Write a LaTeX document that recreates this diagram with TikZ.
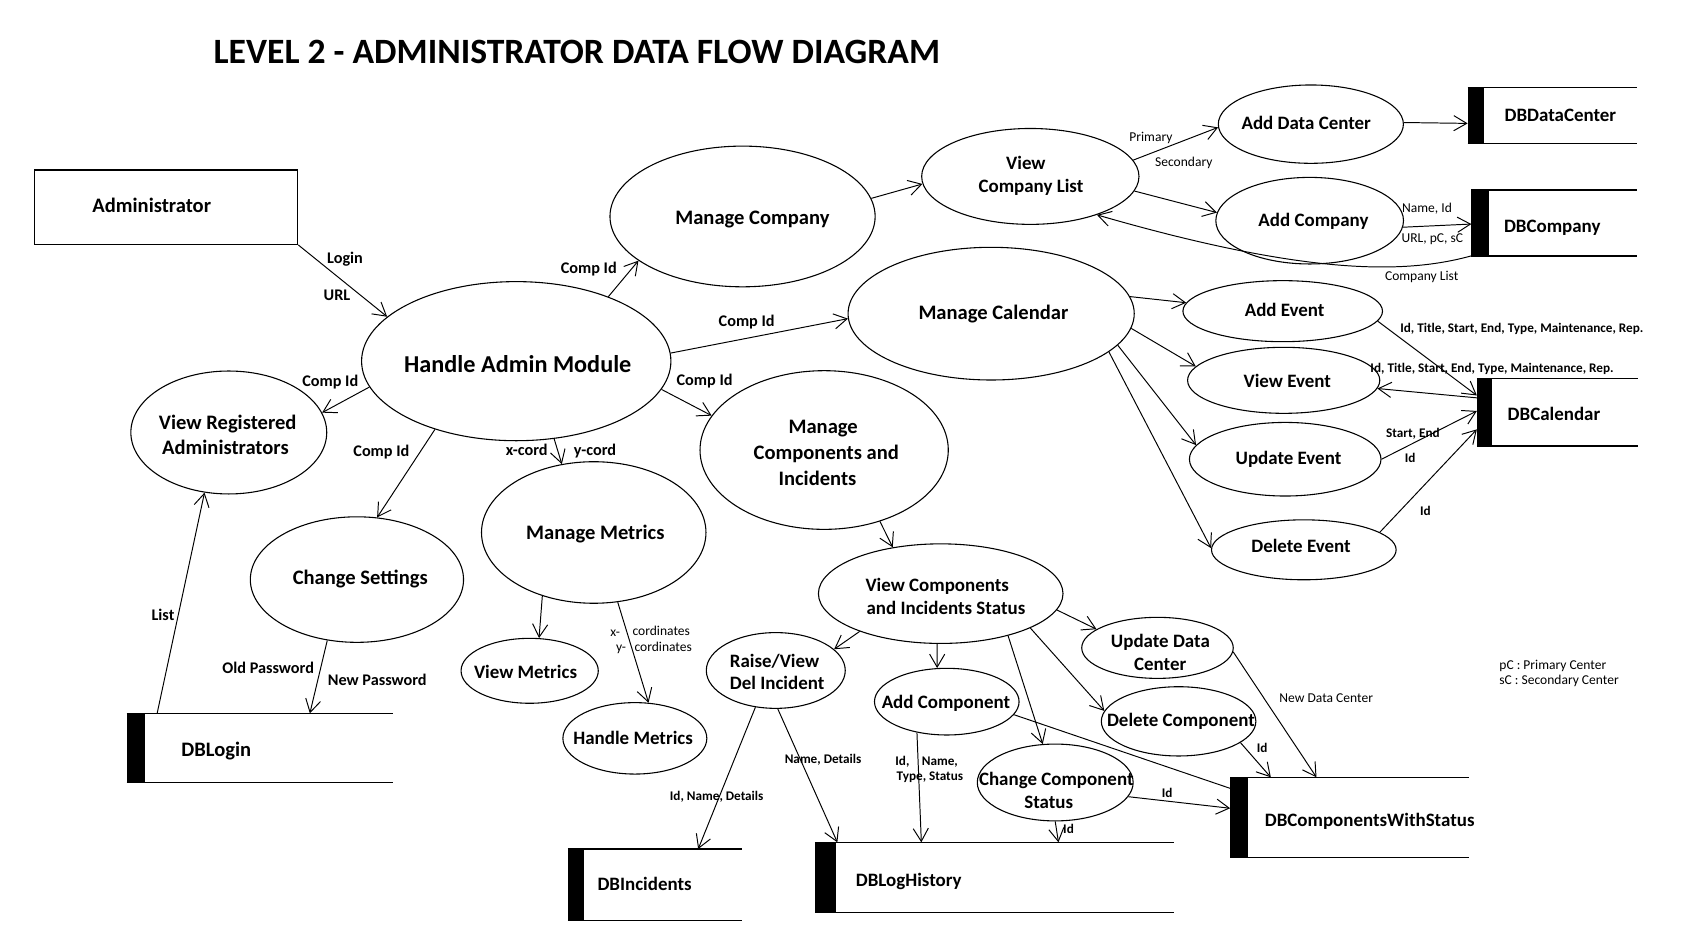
\documentclass[tikz,border=0pt]{standalone}
\usepackage{fontspec}
\setmainfont{Carlito}
\usetikzlibrary{arrows.meta,shapes.geometric,calc}
\tikzset{
  pe/.style={ellipse,draw,line width=0.5pt,inner sep=0pt},
  st/.style={rectangle,inner sep=0pt,anchor=north west},
  sline/.style={line width=0.6pt},
  flow/.style={line width=0.45pt,-{Straight Barb[length=6pt,width=7pt,line width=0.45pt]}},
  plain/.style={line width=0.45pt},
  tTitle/.style={font=\bfseries\fontsize{16.45}{18}\selectfont,inner sep=0pt,anchor=base west},
  tBig/.style={font=\bfseries\fontsize{11.2}{13}\selectfont,inner sep=0pt,anchor=base,yshift=-3.6pt},
  tA/.style={font=\bfseries\fontsize{9.5}{11}\selectfont,inner sep=0pt,anchor=base,yshift=-3.06pt},
  tB/.style={font=\bfseries\fontsize{8.75}{10}\selectfont,inner sep=0pt,anchor=base,yshift=-2.82pt},
  tS/.style={font=\bfseries\fontsize{7.5}{9}\selectfont,inner sep=0pt,anchor=base,yshift=-2.4pt},
  tT/.style={font=\fontsize{6.25}{7.5}\selectfont,inner sep=0pt,anchor=base,yshift=-2pt},
  tTb/.style={font=\bfseries\fontsize{6.1}{7.5}\selectfont,inner sep=0pt,anchor=base,yshift=-2pt}
}
\begin{document}
\begin{tikzpicture}[x=0.5pt,y=-0.5pt]
\fill[white] (0,0) rectangle (1568,864);
\useasboundingbox (0,0) rectangle (1568,864);

% title
\node[tTitle] (title) at (197,58.5) {LEVEL 2 - ADMINISTRATOR DATA FLOW DIAGRAM};

% external entity
\node[rectangle,draw,line width=0.5pt,inner sep=0pt,minimum width=121.65pt,minimum height=34.35pt] (admin) at (153.45,191.45) {};

% processes
\node[pe,minimum width=142.9pt,minimum height=73.5pt] (hm) at (477,333.7) {};
\node[pe,minimum width=122.5pt,minimum height=65pt] (mc) at (686.1,200) {};
\node[pe,minimum width=100.4pt,minimum height=44.3pt] (vcl) at (952,163) {};
\node[pe,minimum width=85.5pt,minimum height=36.2pt] (adc) at (1211.2,114.7) {};
\node[pe,minimum width=86.7pt,minimum height=40pt] (ac) at (1210.1,203.9) {};
\node[pe,minimum width=132.2pt,minimum height=61.3pt] (mcal) at (915.8,289.8) {};
\node[pe,minimum width=92.2pt,minimum height=28.2pt] (ae) at (1185.2,287.5) {};
\node[pe,minimum width=88.8pt,minimum height=30.5pt] (ve) at (1186.1,351.4) {};
\node[pe,minimum width=88.5pt,minimum height=34pt] (ue) at (1187.5,424.3) {};
\node[pe,minimum width=85.3pt,minimum height=27.7pt] (de) at (1204.7,508) {};
\node[pe,minimum width=90.5pt,minimum height=56.8pt] (vra) at (211.4,399.6) {};
\node[pe,minimum width=98.5pt,minimum height=58pt] (cs) at (329.8,535.5) {};
\node[pe,minimum width=103.7pt,minimum height=65.4pt] (mm) at (548.6,492) {};
\node[pe,minimum width=114.7pt,minimum height=73.3pt] (mci) at (761.5,415.8) {};
\node[pe,minimum width=113pt,minimum height=46pt] (vcs) at (869.2,548.5) {};
\node[pe,minimum width=63.4pt,minimum height=30pt] (vm) at (489.4,619.8) {};
\node[pe,minimum width=66.5pt,minimum height=33pt] (hme) at (586.6,682.2) {};
\node[pe,minimum width=64.2pt,minimum height=35pt] (rvd) at (716.8,619.5) {};
\node[pe,minimum width=66.8pt,minimum height=30.8pt] (acp) at (874.8,648.3) {};
\node[pe,minimum width=70pt,minimum height=28.2pt] (udc) at (1069.5,598.6) {};
\node[pe,minimum width=71.4pt,minimum height=32pt] (dc) at (1089,666.5) {};
\node[pe,minimum width=72pt,minimum height=35.5pt] (ccs) at (975,723) {};

% data stores
\node[st,minimum width=77.95pt,minimum height=25.55pt] (dbdc) at (1356.1,80.7) {};
\node[st,minimum width=76.25pt,minimum height=30pt] (dbco) at (1359.5,175.6) {};
\node[st,minimum width=73.85pt,minimum height=30.8pt] (dbcal) at (1364.6,349.6) {};
\node[st,minimum width=122.45pt,minimum height=31.55pt] (dblog) at (117.1,659.1) {};
\node[st,minimum width=80.05pt,minimum height=32.45pt] (dbinc) at (524.6,784.5) {};
\node[st,minimum width=165.35pt,minimum height=32.05pt] (dblh) at (753,778.3) {};
\node[st,minimum width=109.9pt,minimum height=36.65pt] (dbcws) at (1136.6,718.2) {};

\fill (dbdc.north west) rectangle ($(dbdc.south west)+(15.4,0)$);
\draw[sline] (dbdc.north west) -- (dbdc.north east) (dbdc.south west) -- (dbdc.south east);
\fill (dbco.north west) rectangle ($(dbco.south west)+(15.9,0)$);
\draw[sline] (dbco.north west) -- (dbco.north east) (dbco.south west) -- (dbco.south east);
\fill (dbcal.north west) rectangle ($(dbcal.south west)+(14,0)$);
\draw[sline] (dbcal.north west) -- (dbcal.north east) (dbcal.south west) -- (dbcal.south east);
\fill (dblog.north west) rectangle ($(dblog.south west)+(17,0)$);
\draw[sline] (dblog.north west) -- (dblog.north east) (dblog.south west) -- (dblog.south east);
\fill (dbinc.north west) rectangle ($(dbinc.south west)+(14.9,0)$);
\draw[sline] (dbinc.north west) -- (dbinc.north east) (dbinc.south west) -- (dbinc.south east);
\fill (dblh.north west) rectangle ($(dblh.south west)+(19.8,0)$);
\draw[sline] (dblh.north west) -- (dblh.north east) (dblh.south west) -- (dblh.south east);
\fill (dbcws.north west) rectangle ($(dbcws.south west)+(16.4,0)$);
\draw[sline] (dbcws.north west) -- (dbcws.north east) (dbcws.south west) -- (dbcws.south east);

% main texts
\node[tA] (t1) at (140.2,190.3) {Administrator};
\node[tBig] (t2) at (478.4,337.3) {Handle Admin Module};
\node[tA] (t3) at (210.4,390.5) {View Registered};
\node[tA] (t4) at (208.3,414.2) {Administrators};
\node[tA] (t5) at (332.9,533.7) {Change Settings};
\node[tA] (t6) at (550.1,492.2) {Manage Metrics};
\node[tB] (t7) at (485.6,621.2) {View Metrics};
\node[tB] (t8) at (585,682.2) {Handle Metrics};
\node[tA] (t9) at (695.2,201.7) {Manage Company};
\node[tA] (t10) at (917.9,288.9) {Manage Calendar};
\node[tA] (t11) at (760.6,394.2) {Manage};
\node[tA] (t12) at (763.5,418.2) {Components and};
\node[tA] (t13) at (755.3,442) {Incidents};
\node[tB] (t14) at (947.9,150.9) {View};
\node[tB] (t15) at (952.6,172.5) {Company List};
\node[tB] (t16) at (1206.9,114) {Add Data Center};
\node[tB] (t17) at (1213.6,203.3) {Add Company};
\node[tB] (t18) at (1187,287) {Add Event};
\node[tB] (t19) at (1189.4,352.6) {View Event};
\node[tB] (t20) at (1190.5,423.5) {Update Event};
\node[tB] (t21) at (1202.1,504.5) {Delete Event};
\node[tB] (t22) at (866,541.1) {View Components};
\node[tB] (t23) at (874,562) {and Incidents Status};
\node[tB,anchor=base west] (t24) at (674,610.7) {Raise/View};
\node[tB,anchor=base west] (t25) at (674,631.4) {Del Incident};
\node[tB] (t26) at (874,648.9) {Add Component};
\node[tB] (t27) at (1072.2,592.9) {Update Data};
\node[tB] (t28) at (1072,613.8) {Center};
\node[tB] (t29) at (1091.2,665.9) {Delete Component};
\node[tB] (t30) at (976,720) {Change Component};
\node[tB] (t31) at (969,741.3) {Status};
\node[tB,anchor=base west] (t32) at (1389.8,106.9) {DBDataCenter};
\node[tB,anchor=base west] (t33) at (1389.3,209.4) {DBCompany};
\node[tB,anchor=base west] (t34) at (1392.7,382.5) {DBCalendar};
\node[tA,anchor=base west] (t35) at (167.2,693) {DBLogin};
\node[tB,anchor=base west] (t36) at (551.7,816.8) {DBIncidents};
\node[tB,anchor=base west] (t37) at (790.4,813) {DBLogHistory};
\node[tB,anchor=base west] (t38) at (1168.3,757.6) {DBComponentsWithStatus};

% connectors
\draw[flow] (admin.south east) -- (hm.161.8);
\draw[flow] (hm.35.1) -- (mc.203);
\draw[flow] (hm.3.1) -- (mcal.182.6);
\draw[flow] (hm.349.9) -- (mci.163.4);
\draw[flow] (hm.190.9) -- (vra.12.9);
\draw[flow] (hm.220.3) -- (cs.72.2);
\draw[flow] (hm.296.8) -- (mm.115.7);
\draw[flow] (mc.8.8) -- (vcl.184.7);
\draw[flow] (vcl.9.9) -- (adc.182.3);
\draw[flow] (vcl.352.6) -- (ac.175.9);
\draw[flow] (adc.1.5) -- ($(dbdc.north west)+(0,33.3)$);
\draw[flow] (ac.356.3) -- ($(dbco.north west)+(0,31.4)$);
\draw[flow] (dbco.south west) .. controls +(-59.5,16.4) and +(197,57) .. (vcl.330);
\draw[flow] (mcal.7.2) -- (ae.175.2);
\draw[flow] (mcal.354.7) -- (ve.171.2);
\draw[flow] (mcal.346) -- (ue.171);
\draw[flow] (mcal.342.7) -- (de.179);
\draw[flow] (ae.354.8) -- ($(dbcal.north west)+(0,15.8)$);
\draw[flow] ($(dbcal.north west)+(0,18)$) -- (ve.355);
\draw[flow] (ue.0) -- ($(dbcal.north west)+(0,30.1)$);
\draw[flow] (de.13.8) -- ($(dbcal.north west)+(0,47.1)$);
\draw[flow] (mci.308.3) -- (vcs.136.3);
\draw[flow] (vcs.205.3) -- (rvd.20.3);
\draw[flow] (vcs.266.3) -- (acp.106);
\draw[flow] (vcs.328.2) -- (ccs.108.4);
\draw[flow] (vcs.339.8) -- (dc.172.5);
\draw[flow] (vcs.352.2) -- (udc.163);
\draw[flow] (udc.357.1) -- ($(dbcws.north west)+(79.8,0)$);
\draw[flow] (dc.341.3) -- ($(dbcws.north west)+(37.6,0)$);
\draw[plain] (acp.349.2) -- ($(dbcws.north west)+(0,10.2)$);
\draw[flow] (ccs.349.3) -- ($(dbcws.north west)+(0,28.6)$);
\draw[flow] (ccs.270.6) -- ($(dblh.north west)+(225,0)$);
\draw[flow] (acp.226) -- ($(dblh.north west)+(98.3,0)$);
\draw[flow] (rvd.273.4) -- ($(dblh.north west)+(20.7,0)$);
\draw[flow] (rvd.241.8) -- ($(dbinc.north west)+(120.5,0)$);
\draw[flow] (mm.231.7) -- (vm.74.5);
\draw[flow] (mm.289.5) -- (hme.69.7);
\draw[flow] (cs.244.3) -- ($(dblog.north west)+(169.2,0)$);
\draw[flow] ($(dblog.north west)+(28.1,0)$) -- (vra.248.2);

% flow labels
\node[tS] (l1) at (318.8,238.7) {Login};
\node[tS] (l2) at (311.4,272.6) {URL};
\node[tS] (l3) at (544,248) {Comp Id};
\node[tS] (l4) at (689.9,296.6) {Comp Id};
\node[tS] (l5) at (651,351.1) {Comp Id};
\node[tS] (l6) at (305.2,352) {Comp Id};
\node[tS] (l7) at (352.4,416.7) {Comp Id};
\node[tS] (l8) at (486.7,415.8) {x-cord};
\node[tS] (l9) at (549.8,415.8) {y-cord};
\node[tS] (l10) at (150.6,568.2) {List};
\node[tS] (l11) at (247.8,617.5) {Old Password};
\node[tS] (l12) at (348.6,628.3) {New Password};
\node[tT] (l13) at (1063.4,126.9) {Primary};
\node[tT] (l14) at (1093.8,149.4) {Secondary};
\node[tT] (l15) at (1318.5,192.5) {Name, Id};
\node[tT] (l16) at (1323.4,220.2) {URL, pC, sC};
\node[tT] (l17) at (1313.6,255.6) {Company List};
\node[tT] (l18) at (568.4,583.7) {x-};
\node[tT] (l19) at (611,583) {cordinates};
\node[tT] (l20) at (573.8,597.5) {y-};
\node[tT] (l21) at (612.8,597.5) {cordinates};
\node[tT] (l22) at (1225.4,645.2) {New Data Center};
\node[tT,anchor=base west] (l23) at (1385,614.4) {pC : Primary Center};
\node[tT,anchor=base west] (l24) at (1385,628.3) {sC : Secondary Center};
\node[tTb] (l25) at (1406.1,303.4) {Id, Title, Start, End, Type, Maintenance, Rep.};
\node[tTb] (l26) at (1378.6,340.3) {Id, Title, Start, End, Type, Maintenance, Rep.};
\node[tTb] (l27) at (1305.5,400.4) {Start, End};
\node[tTb] (l28) at (1303,423.5) {Id};
\node[tTb] (l29) at (1317.1,471.9) {Id};
\node[tTb] (l30) at (760.5,701.3) {Name, Details};
\node[tTb] (l31) at (662.2,735.5) {Id, Name, Details};
\node[tTb] (l32) at (833.8,703.2) {Id,};
\node[tTb] (l33) at (868.4,703.2) {Name,};
\node[tTb] (l34) at (859.2,717) {Type, Status};
\node[tTb] (l35) at (987.3,766) {Id};
\node[tTb] (l36) at (1166.2,691.4) {Id};
\node[tTb] (l37) at (1078.4,733) {Id};
\end{tikzpicture}
\end{document}
